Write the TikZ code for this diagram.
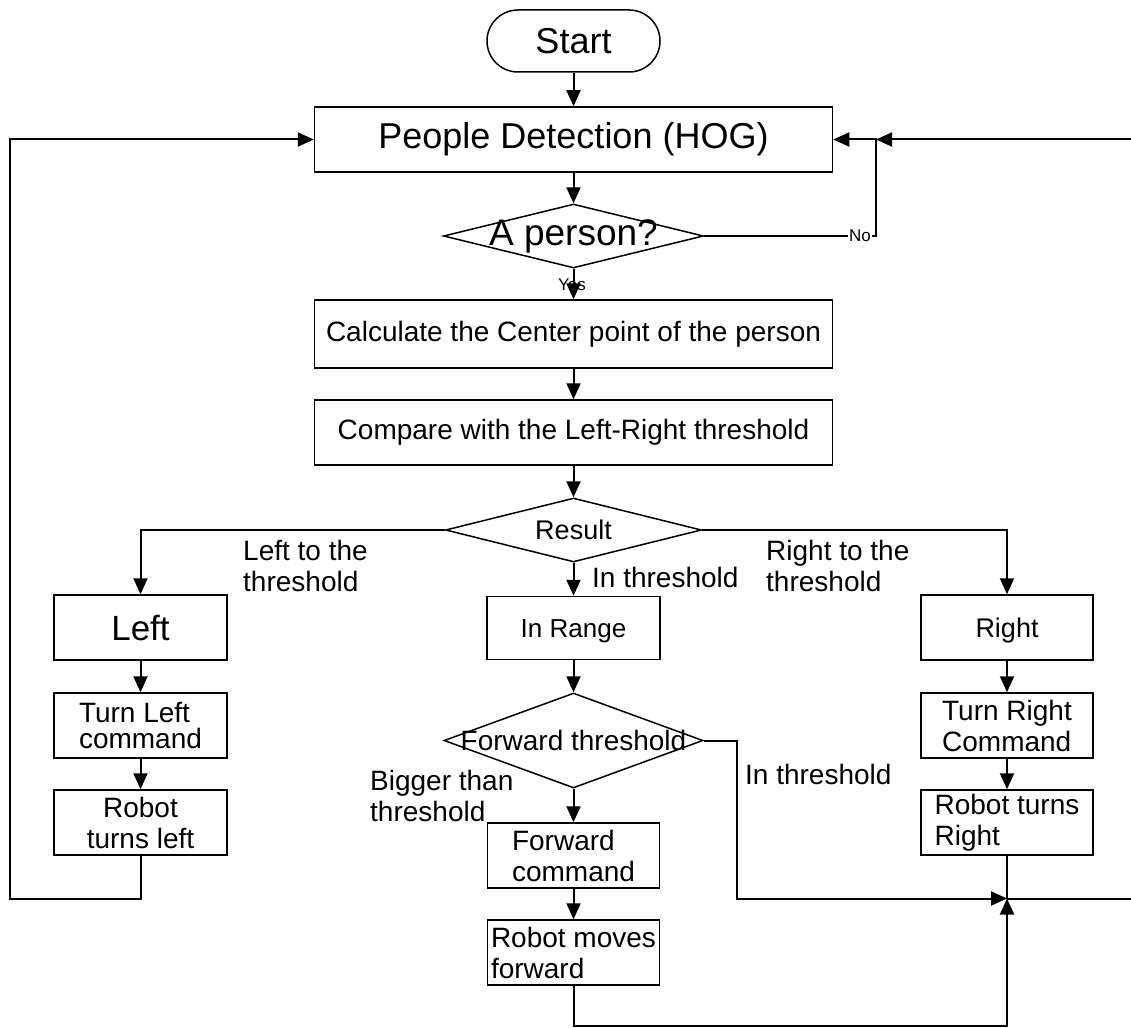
\documentclass[tikz,border=0pt]{standalone}
\usepackage{fontspec}
\setmainfont{Liberation Sans}
\usetikzlibrary{arrows.meta,shapes.geometric}

\tikzset{
  txt/.style={font=\fontsize{28}{31}\selectfont},
  big/.style={font=\fontsize{36}{40}\selectfont},
  small/.style={font=\fontsize{17}{19}\selectfont},
  box/.style={draw, line width=1.5pt, fill=white, inner sep=0pt, align=center, txt},
  dia/.style={draw, diamond, line width=1.5pt, fill=white, inner sep=0pt, txt},
  conn/.style={line width=2pt},
  arr/.style={conn, -{Triangle[length=16pt,width=14pt]}},
  lbl/.style={txt, align=left, inner sep=0pt},
}

\begin{document}
\begin{tikzpicture}[x=1pt,y=-1pt]
\useasboundingbox (0,0) rectangle (1131,1027);
\clip (0,0) rectangle (1131,1027);

% main column
\node[box, big, rounded corners=31pt, minimum width=173pt, minimum height=62pt] (start) at (573.5,41) {Start};
\node[box, big, minimum width=518pt, minimum height=65pt] (pd) at (573.5,139.5) {People Detection (HOG)};
\node[dia, minimum width=260pt, minimum height=64pt] (person) at (573.5,236) {\makebox[0pt]{\fontsize{37}{40}\selectfont A person?}};
\node[box, minimum width=518pt, minimum height=68pt] (calc) at (573.5,334) {Calculate the Center point of the person};
\node[box, minimum width=518pt, minimum height=65pt] (compare) at (573.5,432.5) {Compare with the Left-Right threshold};
\node[dia, minimum width=256pt, minimum height=64pt] (result) at (573.5,530) {\makebox[0pt]{\fontsize{27}{31}\selectfont Result}};

% centre branch
\node[box, font=\fontsize{26}{30}\selectfont, minimum width=173pt, minimum height=63pt] (inrange) at (573.5,628) {\raisebox{-3pt}[\height][\depth]{In Range}};
\node[dia, minimum width=259pt, minimum height=95pt] (fwd) at (573.5,740.5) {\makebox[0pt]{\fontsize{28}{31}\selectfont Forward threshold}};
\node[box, align=left, minimum width=172pt, minimum height=65pt] (fwdcmd) at (573.5,855.5) {Forward\\command};
\node[box, align=left, minimum width=172pt, minimum height=65pt] (robotfwd) at (573.5,952.5) {Robot moves\\forward};

% left branch
\node[box, font=\fontsize{35}{40}\selectfont, minimum width=173pt, minimum height=65pt] (left) at (140.5,627.5) {Left};
\node[box, align=left, font=\fontsize{28}{26}\selectfont, minimum width=173pt, minimum height=65pt] (turnleft) at (140.5,725.5) {Turn Left\\command};
\node[box, minimum width=173pt, minimum height=65pt] (robotleft) at (140.5,822.5) {Robot\\turns left};

% right branch
\node[box, font=\fontsize{27}{31}\selectfont, minimum width=172pt, minimum height=65pt] (right) at (1007,627.5) {\raisebox{-3pt}[\height][\depth]{Right}};
\node[box, align=left, minimum width=172pt, minimum height=65pt] (turnright) at (1007,725.5) {Turn Right\\Command};
\node[box, align=left, minimum width=172pt, minimum height=65pt] (robotright) at (1007,822.5) {Robot turns\\Right};

% branch labels
\node[small, inner sep=0pt] (yes) at (572,285) {Yes};
\node[lbl, anchor=north west] (lblleft) at (243,540) {Left to the\\threshold};
\node[lbl, anchor=north west] (lblright) at (766,540) {Right to the\\threshold};
\node[lbl, anchor=north west] (lblin) at (592,567) {In threshold};
\node[lbl, anchor=north west] (lblbig) at (370,770) {Bigger than\\threshold};
\node[lbl, anchor=north west] (lblfwdin) at (745,764) {In threshold};

% routing points
\coordinate (nocorner) at (876,236);
\coordinate (notop) at (876,139.5);
\coordinate (join) at (1007,898.5);
\coordinate (rb) at (1145,898.5);
\coordinate (rt) at (1145,139.5);
\coordinate (lb) at (140.5,898.5);
\coordinate (lc) at (10,898.5);
\coordinate (lt) at (10,139.5);
\coordinate (fr) at (737,740.5);
\coordinate (fb) at (737,898.5);
\coordinate (bl) at (573.5,1026);
\coordinate (br) at (1007,1026);

% main flow
\draw[arr] (start) -- (pd);
\draw[arr] (pd) -- (person);
\draw[arr] (person) -- (calc);
\draw[arr] (calc) -- (compare);
\draw[arr] (compare) -- (result);
\draw[arr] (person.east) -- (nocorner) -- (notop) -- (pd.east);
\node[small, fill=white, inner sep=1pt] (no) at (860,236) {No};

% result branches
\draw[arr] (result.west) -| (left.north);
\draw[arr] (result.east) -| (right.north);
\draw[arr] (result.south) -- (inrange.north);

\draw[arr] (left) -- (turnleft);
\draw[arr] (turnleft) -- (robotleft);
\draw[arr] (right) -- (turnright);
\draw[arr] (turnright) -- (robotright);
\draw[arr] (inrange) -- (fwd);
\draw[arr] (fwd) -- (fwdcmd);
\draw[arr] (fwdcmd) -- (robotfwd);

% loops back to detection
\draw[arr] (robotleft.south) -- (lb) -- (lc) -- (lt) -- (pd.west);
\draw[conn] (robotright.south) -- (join);
\draw[arr] (fwd.east) -- (fr) -- (fb) -- (join);
\draw[arr] (robotfwd.south) -- (bl) -- (br) -- (join);
\draw[arr] (join) -- (rb) -- (rt) -- (notop);
\end{tikzpicture}
\end{document}
